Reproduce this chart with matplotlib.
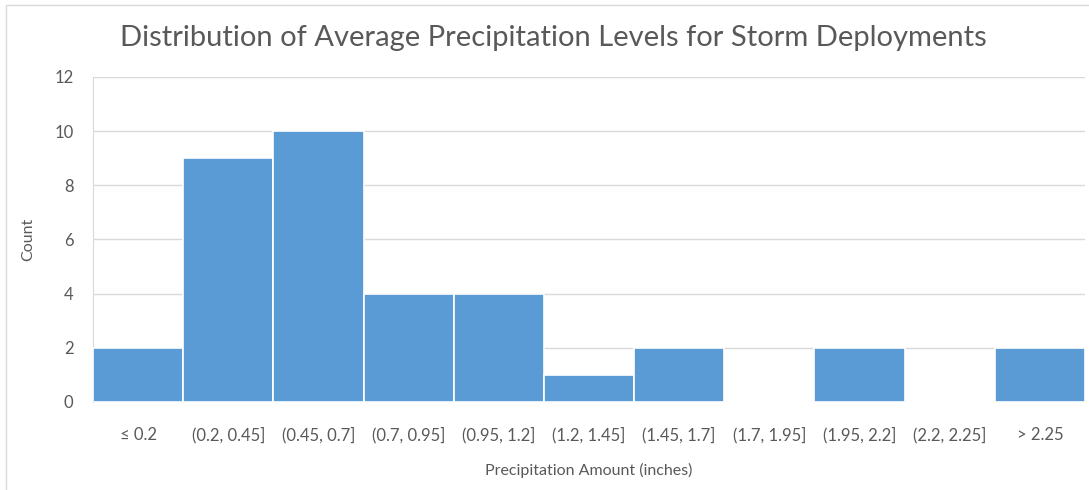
import matplotlib.pyplot as plt
import matplotlib
from matplotlib.patches import Rectangle
import numpy as np

matplotlib.rcParams['font.family'] = ['Lato', 'DejaVu Sans']

# bins and counts
bins = ['≤ 0.2', '(0.2, 0.45]', '(0.45, 0.7]', '(0.7, 0.95]', '(0.95, 1.2]',
        '(1.2, 1.45]', '(1.45, 1.7]', '(1.7, 1.95]', '(1.95, 2.2]',
        '(2.2, 2.25]', '> 2.25']
counts = [2, 9, 10, 4, 4, 1, 2, 0, 2, 0, 2]

fig = plt.figure(figsize=(10.89, 4.9), dpi=100)
ax = fig.add_axes([0.0854, 0.1796, 0.9109, 0.6633])

# light chart border
fig.patches.append(Rectangle((0.0055, -0.1), 1.2, 1.09, transform=fig.transFigure,
                             fill=False, edgecolor='#d9d9d9', linewidth=1))

x = np.arange(len(bins))
ax.bar(x, counts, width=1.0, color='#5b9bd5', edgecolor='white', linewidth=1.2, zorder=3)

ax.set_xlim(-0.5, len(bins) - 0.5)
ax.set_ylim(0, 12)
ax.set_yticks(range(0, 13, 2))
ax.set_xticks(x)
ax.set_xticklabels(bins, fontsize=12)
ax.grid(axis='y', color='#d9d9d9', linewidth=1, zorder=0)

for s in ['top', 'right', 'bottom']:
    ax.spines[s].set_visible(False)
ax.spines['left'].set_color('#d9d9d9')
ax.tick_params(length=0, labelsize=12, labelcolor='#595959')
ax.tick_params(axis='x', pad=18)
ax.tick_params(axis='y', pad=14)

ax.set_xlabel('Precipitation Amount (inches)', fontsize=11.5, color='#595959', labelpad=14)
ax.set_ylabel('Count', fontsize=11.5, color='#595959', labelpad=14)
fig.suptitle('Distribution of Average Precipitation Levels for Storm Deployments',
             fontsize=21, color='#595959', x=0.508, y=0.948)

fig.savefig('out.png', dpi=100)
